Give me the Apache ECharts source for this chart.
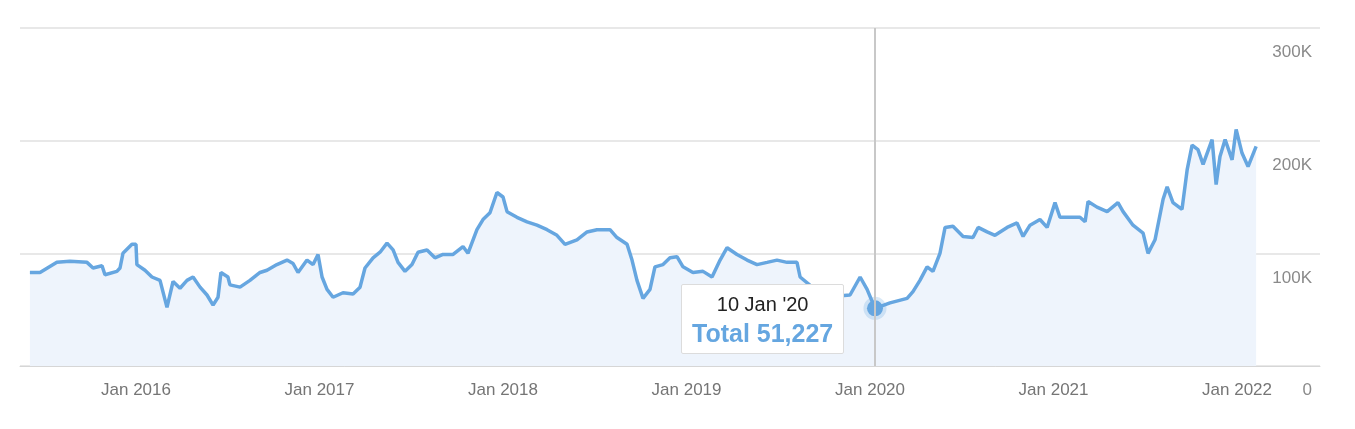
<!DOCTYPE html>
<html><head><meta charset="utf-8">
<script src="https://cdn.jsdelivr.net/npm/echarts@6/dist/echarts.min.js"></script>
<style>html,body{margin:0;padding:0;background:#fff}#c{width:1355px;height:429px}</style>
</head><body><div id="c"></div>
<script>
// decimal years
const years = [2015.422,2015.477,2015.569,2015.640,2015.733,2015.766,2015.815,2015.831,2015.896,2015.913,2015.929,2015.978,
2016.000,2016.005,2016.049,2016.087,2016.131,2016.169,2016.202,2016.240,2016.278,2016.311,2016.349,2016.387,2016.420,2016.447,2016.463,2016.501,2016.512,2016.567,2016.621,2016.676,2016.714,2016.768,2016.823,2016.856,2016.883,2016.932,2016.965,2016.992,
2017.014,2017.041,2017.074,2017.128,2017.183,2017.221,2017.248,2017.292,2017.330,2017.368,2017.401,2017.428,2017.466,2017.504,2017.537,2017.586,2017.629,2017.673,2017.728,2017.782,2017.809,2017.858,2017.891,2017.929,2017.967,
2018.000,2018.022,2018.076,2018.131,2018.185,2018.240,2018.294,2018.338,2018.403,2018.458,2018.512,2018.583,2018.621,2018.676,2018.703,2018.730,2018.763,2018.801,2018.828,2018.872,2018.910,2018.948,2018.981,
2019.035,2019.090,2019.139,2019.183,2019.221,2019.275,2019.330,2019.384,2019.439,2019.493,2019.548,2019.602,2019.619,2019.700,2019.809,2019.891,2019.946,2019.984,
2020.027,2020.109,2020.202,2020.234,2020.272,2020.311,2020.343,2020.381,2020.409,2020.452,2020.507,2020.561,2020.589,2020.638,2020.681,2020.747,2020.801,2020.834,2020.872,2020.926,2020.965,
2021.008,2021.035,2021.090,2021.144,2021.172,2021.188,2021.237,2021.292,2021.351,2021.379,2021.433,2021.488,2021.515,2021.553,2021.597,2021.619,2021.651,2021.700,2021.728,2021.755,2021.787,2021.815,2021.864,2021.886,2021.907,2021.935,2021.973,2021.995,
2022.027,2022.060,2022.104];
const totals = [83000,83000,92000,93000,92000,87000,89000,81000,84000,87000,100000,108000,
108000,90000,85000,79000,76000,52000,75000,69000,76000,79000,70000,63000,54000,61000,83000,79000,72000,70000,76000,83000,85000,90000,94000,91000,83000,94000,90000,99000,
79000,68000,61000,65000,64000,70000,87000,96000,101000,109000,103000,92000,84000,90000,101000,103000,96000,99000,99000,106000,100000,121000,130000,136000,154000,
150000,137000,132000,128000,125000,121000,116000,108000,112000,119000,121000,121000,114000,108000,94000,76000,60000,68000,88000,90000,96000,97000,88000,
83000,84000,79000,94000,105000,99000,94000,90000,92000,94000,92000,92000,79000,68000,62000,63000,79000,68000,
51227,56000,60000,66000,76000,88000,84000,100000,123000,124000,115000,114000,123000,119000,116000,123000,127000,115000,125000,130000,123000,
145000,132000,132000,132000,128000,146000,141000,137000,145000,137000,125000,118000,100000,112000,148000,159000,145000,139000,174000,196000,192000,179000,201000,161000,186000,201000,183000,210000,
189000,177000,195000];
const yearTicks = [2016,2017,2018,2019,2020,2021,2022];
const months = ['Jan','Feb','Mar','Apr','May','Jun','Jul','Aug','Sep','Oct','Nov','Dec'];

function decToDate(v){
  const y = Math.floor(v);
  const start = Date.UTC(y,0,1), end = Date.UTC(y+1,0,1);
  return new Date(start + (v-y)*(end-start));
}
const data = years.map((y,i)=>[y,totals[i]]);
const LINE='#66a6e0', AREA='#eef4fc';
const chart = echarts.init(document.getElementById('c'));
chart.setOption({
  animation:false,
  grid:{left:20,right:35,top:28,bottom:63},
  xAxis:{type:'value',min:2015.368,max:2022.452,
    axisLine:{lineStyle:{color:'#d6d6d6'}},
    axisTick:{show:true,inside:true,length:10,lineStyle:{color:'#d6d6d6'},customValues:yearTicks},
    axisLabel:{customValues:yearTicks,formatter:v=>'Jan '+v,color:'#757575',fontSize:17,fontFamily:'Arial, Liberation Sans',margin:16},
    splitLine:{show:false},
    axisPointer:{type:'line',lineStyle:{color:'#c8c8c8',width:2,type:'solid'},label:{show:false}}},
  yAxis:{type:'value',position:'right',min:0,max:300000,interval:100000,
    axisLine:{show:false},axisTick:{show:false},
    splitLine:{lineStyle:{color:'#e8e8e8',width:2}},
    axisLabel:{inside:true,verticalAlign:'top',padding:[16,0,0,0],color:'#8a8a8a',fontSize:17,fontFamily:'Arial, Liberation Sans',
      formatter:v=>v===0?'0':(v/1000)+'K'}},
  tooltip:{trigger:'axis',alwaysShowContent:true,backgroundColor:'#fff',borderColor:'#dcdcdc',borderWidth:1,padding:[5,10],
    extraCssText:'box-shadow:none;border-radius:2px;',
    position:(p)=>[p[0]-194,p[1]-24],
    formatter:ps=>{const p=ps[0];const d=decToDate(p.value[0]);
      const s=d.getUTCDate()+' '+months[d.getUTCMonth()]+" '"+String(d.getUTCFullYear()).slice(2);
      return '<div style="text-align:center;font-family:Arial,Liberation Sans;line-height:29px"><div style="font-size:20px;color:#222">'+s+'</div>'+
      '<div style="font-size:25px;font-weight:bold;color:#65a6e0">Total '+p.value[1].toLocaleString('en-US')+'</div></div>';}},
  series:[{type:'line',data:data,showSymbol:false,symbol:'circle',symbolSize:16,
    lineStyle:{color:LINE,width:3.5},itemStyle:{color:LINE},
    areaStyle:{color:AREA,opacity:1},
    emphasis:{focus:'none',scale:false,lineStyle:{color:LINE,width:3.5},areaStyle:{color:AREA,opacity:1},
      itemStyle:{color:LINE,borderColor:'rgba(102,166,224,0.25)',borderWidth:7}}}]
});
const idx = years.indexOf(2020.027);
chart.dispatchAction({type:'showTip',seriesIndex:0,dataIndex:idx});
</script></body></html>
